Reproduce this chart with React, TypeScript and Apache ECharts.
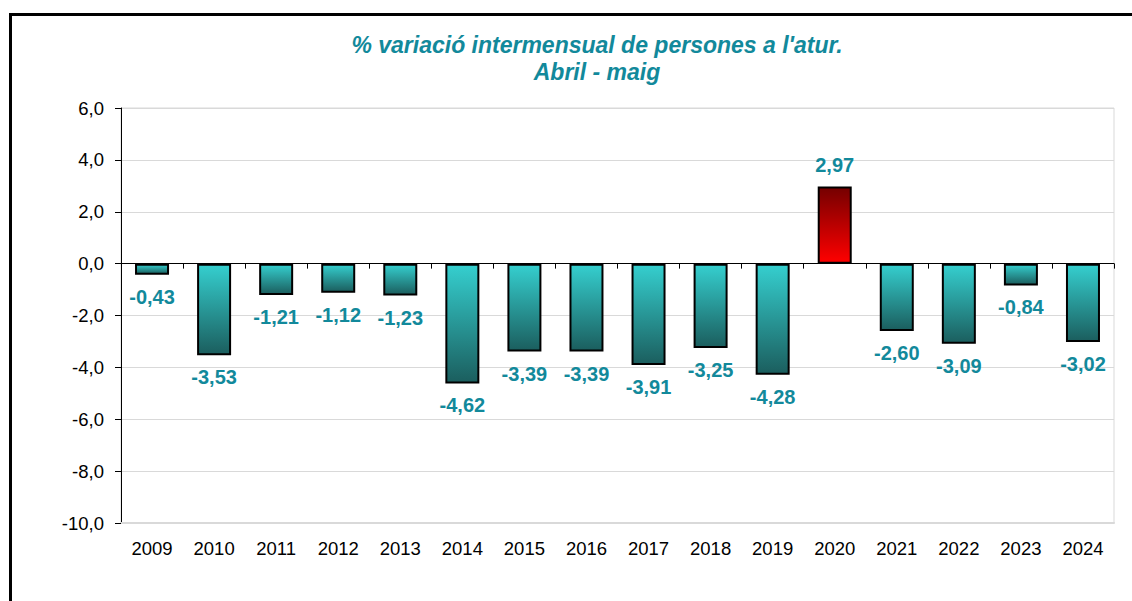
import React, { useEffect, useRef } from "react";
import * as echarts from "echarts";

const categories = ["2009", "2010", "2011", "2012", "2013", "2014", "2015", "2016", "2017", "2018", "2019", "2020", "2021", "2022", "2023", "2024"];
const values = [-0.43, -3.53, -1.21, -1.12, -1.23, -4.62, -3.39, -3.39, -3.91, -3.25, -4.28, 2.97, -2.6, -3.09, -0.84, -3.02];
const titleLines = ["% variació intermensual de persones a l'atur.", "Abril - maig"];

const FONT = "'Liberation Sans', Arial, sans-serif";
const TEAL_TEXT = "#12899B";

const negColor = new echarts.graphic.LinearGradient(0, 0, 0, 1, [
  { offset: 0, color: "#35CFCF" },
  { offset: 1, color: "#1B5E5E" },
]);
const posColor = new echarts.graphic.LinearGradient(0, 0, 0, 1, [
  { offset: 0, color: "#750000" },
  { offset: 1, color: "#FF0000" },
]);

export default function App() {
  const ref = useRef<HTMLDivElement>(null);
  useEffect(() => {
    document.body.style.margin = "0";
    if (!ref.current) return;
    const chart = echarts.init(ref.current, undefined, { renderer: "svg" });
    const fmt = (v: number, d: number) => v.toFixed(d).replace(".", ",");
    chart.setOption({
      animation: false,
      backgroundColor: "#ffffff",
      graphic: [
        {
          type: "rect",
          shape: { x: 10.5, y: 14.5, width: 1140, height: 620 },
          style: { fill: "none", stroke: "#000000", lineWidth: 3 },
          silent: true,
        },
        {
          type: "text",
          x: 597,
          y: 58,
          style: {
            text: titleLines.join("\n"),
            align: "center",
            verticalAlign: "middle",
            fill: TEAL_TEXT,
            font: `italic bold 23px ${FONT}`,
            lineHeight: 27,
          },
        },
      ],
      grid: {
        left: 121,
        right: 18,
        top: 108,
        bottom: 78,
        show: true,
        borderColor: "#d9d9d9",
        borderWidth: 1,
        backgroundColor: "transparent",
      },
      xAxis: [
        {
          type: "category",
          data: categories,
          position: "bottom",
          axisLine: { onZero: false, show: true, lineStyle: { color: "#d9d9d9", width: 2 } },
          axisTick: { show: false },
          axisLabel: { color: "#000000", fontSize: 18.5, fontFamily: FONT, margin: 16 },
          splitLine: { show: false },
        },
        {
          type: "category",
          data: categories,
          position: "bottom",
          axisLine: { onZero: true, show: true, lineStyle: { color: "#000000", width: 1 } },
          axisTick: { show: true, length: 5, lineStyle: { color: "#000000" } },
          axisLabel: { show: false },
          splitLine: { show: false },
        },
      ],
      yAxis: {
        type: "value",
        min: -10,
        max: 6,
        interval: 2,
        axisLine: { show: true, lineStyle: { color: "#000000", width: 1 } },
        axisTick: { show: true, length: 6, lineStyle: { color: "#000000" } },
        axisLabel: {
          color: "#000000",
          fontSize: 18.5,
          fontFamily: FONT,
          margin: 17,
          formatter: (v: number) => fmt(v, 1),
        },
        splitLine: { show: true, lineStyle: { color: "#d9d9d9", width: 1 } },
      },
      series: [
        {
          type: "bar",
          xAxisIndex: 0,
          data: values.map((v) => ({
            value: v,
            itemStyle: { color: v >= 0 ? posColor : negColor },
            label: { position: v >= 0 ? "top" : "bottom" },
          })),
          barWidth: 34,
          itemStyle: { borderColor: "#000000", borderWidth: 2 },
          label: {
            show: true,
            distance: 12,
            color: TEAL_TEXT,
            fontSize: 20,
            fontWeight: "bold",
            fontFamily: FONT,
            formatter: (p: any) => fmt(p.value, 2),
          },
          z: 1,
        },
      ],
    });
    return () => chart.dispose();
  }, []);
  return <div ref={ref} style={{ width: 1132, height: 601 }} />;
}
